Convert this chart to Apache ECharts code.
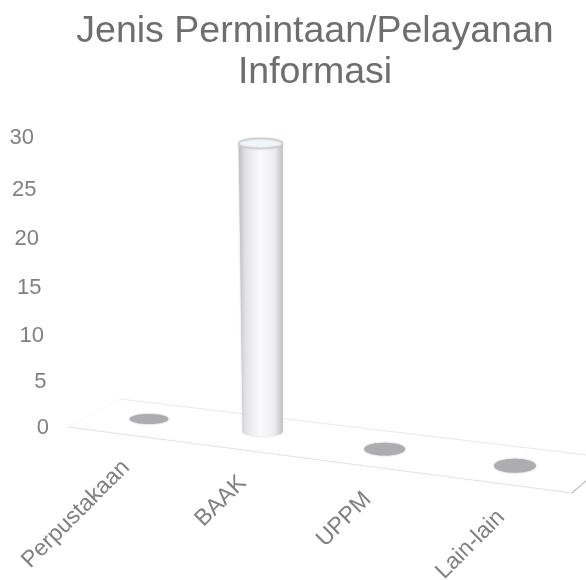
<!DOCTYPE html>
<html><head><meta charset="utf-8">
<style>html,body{margin:0;padding:0;background:#fff}#c{width:586px;height:580px}</style>
<script src="https://cdn.jsdelivr.net/npm/echarts@6/dist/echarts.min.js"></script>
</head><body><div id="c"></div>
<script>
const titleText = 'Jenis Permintaan/Pelayanan\nInformasi';
const categories = ['Perpustakaan', 'BAAK', 'UPPM', 'Lain-lain'];
const values = [0, 30, 0, 0];
const tickLabels = [0, 5, 10, 15, 20, 25, 30];

const FONT = '"Liberation Sans", Arial, sans-serif';
const TEXT = '#808080';
const SLOPE = 0.128, LIFT = -9, BEND = 0.00028;
const tickNudge = { 0: 0, 5: 2, 10: 4, 15: 4, 20: 3, 25: 2, 30: -2 };

function project(p) {
  const x = p[0] - BEND * (p[0] - 149) * (515 - p[0]);
  return [x, p[1] + LIFT + SLOPE * (x - 149)];
}

const rich = {};
tickLabels.forEach((v, i) => {
  const n = tickNudge[v];
  rich['t' + v] = {
    padding: [n > 0 ? 2 * n : 0, i * 2.5, n < 0 ? -2 * n : 0, 0],
    fontSize: 22, color: TEXT, fontFamily: FONT
  };
});

const chart = echarts.init(document.getElementById('c'), null, { renderer: 'canvas' });
chart.setOption({
  backgroundColor: '#fff',
  animation: false,
  title: {
    text: titleText, left: 310, top: 6, textAlign: 'center',
    textStyle: { fontFamily: FONT, fontWeight: 'normal', fontSize: 37.5, lineHeight: 41, color: '#6e6e6e' }
  },
  grid: { left: 88, width: 488, top: 140, height: 288, containLabel: false },
  xAxis: {
    type: 'category', data: categories,
    axisLine: { show: false }, axisTick: { show: false }, axisLabel: { show: false }
  },
  yAxis: {
    type: 'value', min: 0, max: 30, interval: 5,
    splitLine: { show: false }, axisLine: { show: false }, axisTick: { show: false },
    axisLabel: { margin: 39, formatter: v => `{t${v}|${v}}`, rich }
  },
  series: [
    {
      type: 'custom', coordinateSystem: 'cartesian2d', silent: true, z: 1,
      data: [[0, 0]],
      renderItem(params, api) {
        const y0 = api.coord([0, 0])[1];
        const a = [68, y0 - 1], b = [120, y0 - 29], c = [612, y0 + 30], d = [572, y0 + 65];
        const seg = (p, q, color) => ({
          type: 'line',
          shape: { x1: p[0], y1: p[1], x2: q[0], y2: q[1] },
          style: { stroke: color, lineWidth: 1.2 }
        });
        return {
          type: 'group',
          children: [seg(a, b, '#f8f8f8'), seg(b, c, '#ebebeb'), seg(a, d, '#e2e2e2'), seg(d, c, '#bdbdbd')]
        };
      }
    },
    {
      type: 'custom', coordinateSystem: 'cartesian2d', silent: true, z: 2,
      data: values.map((v, i) => [i, v]),
      encode: { x: 0, y: 1 },
      renderItem(params, api) {
        const base = project(api.coord([api.value(0), 0]));
        const v = api.value(1);
        const children = [];
        if (v > 0) {
          const h = api.coord([0, 0])[1] - api.coord([0, v])[1];
          const by = base[1] - 2, ty = by - h, tx = base[0] - 2;
          const rb = 20, rt = 22, ry = 5;
          children.push({
            type: 'path',
            shape: {
              pathData: `M${tx - rt} ${ty} L${base[0] - rb} ${by} A${rb} ${ry} 0 0 0 ${base[0] + rb} ${by} L${tx + rt} ${ty} Z`
            },
            style: {
              fill: new echarts.graphic.LinearGradient(0, 0, 1, 0, [
                { offset: 0, color: '#bdbdbf' },
                { offset: 0.15, color: '#e2e2e4' },
                { offset: 0.5, color: '#fbfbfd' },
                { offset: 0.82, color: '#ececee' },
                { offset: 1, color: '#bfbfc1' }
              ]),
              shadowBlur: 2, shadowColor: 'rgba(170,170,170,0.6)'
            }
          });
          children.push({
            type: 'ellipse',
            shape: { cx: tx, cy: ty, rx: rt, ry },
            style: { fill: '#f3f6f9', stroke: '#cfcfd1', lineWidth: 1.5, shadowBlur: 2, shadowColor: 'rgba(190,190,190,0.6)' }
          });
        } else {
          const t = base[0] - 149;
          children.push({
            type: 'ellipse',
            shape: { cx: base[0], cy: base[1], rx: 19.5 + t * 0.0041, ry: 5 + t * 0.0055 },
            style: { fill: '#adadb0', shadowBlur: 2, shadowColor: '#b5b5b8' }
          });
        }
        return { type: 'group', children };
      }
    },
    {
      type: 'custom', coordinateSystem: 'cartesian2d', silent: true, z: 3,
      data: categories.map((c, i) => [i, 0]),
      encode: { x: 0, y: 1 },
      renderItem(params, api) {
        const i = api.value(0);
        const b = project(api.coord([i, 0]));
        return {
          type: 'text',
          x: b[0] - 23 + 0.025 * (b[0] - 149),
          y: b[1] + 45 + 0.008 * (b[0] - 149),
          rotation: Math.PI / 4,
          style: {
            text: categories[i], align: 'right', verticalAlign: 'middle',
            fontFamily: FONT, fontSize: 23, fill: TEXT
          }
        };
      }
    }
  ]
});
</script></body></html>
